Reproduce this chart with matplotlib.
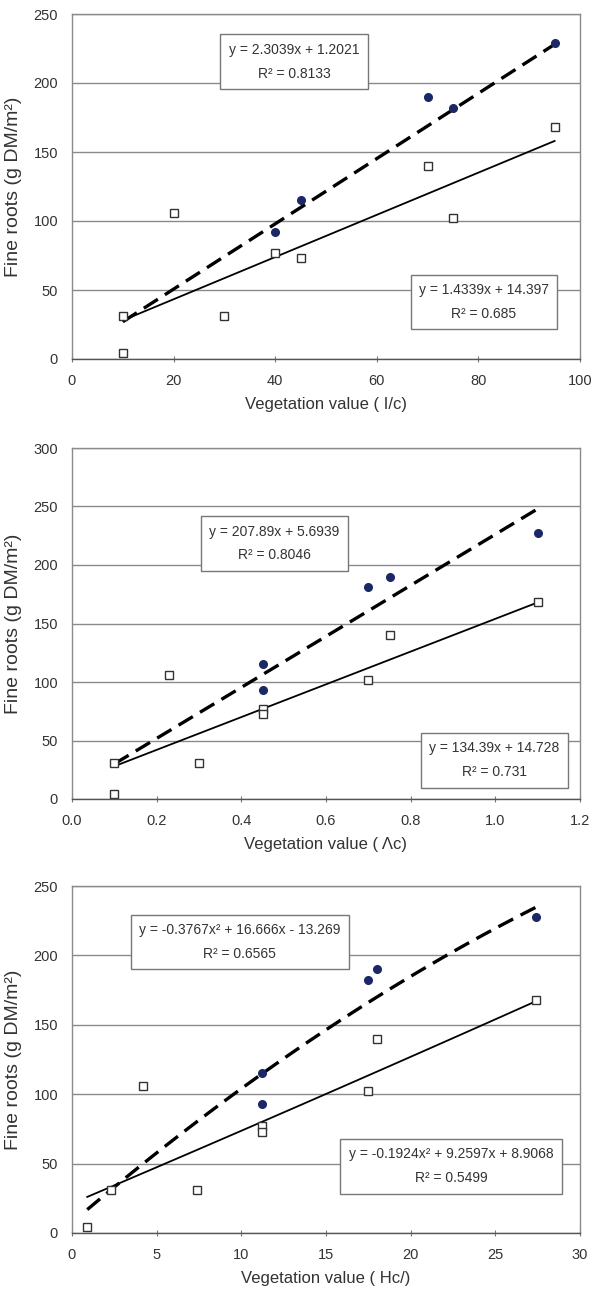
import numpy as np
import matplotlib
matplotlib.use("Agg")
import matplotlib.pyplot as plt

plt.rcParams["font.family"] = ["Liberation Sans", "DejaVu Sans"]

# panel 1 : I/c
sq_x1 = [10, 10, 20, 30, 40, 45, 70, 75, 95]
sq_y1 = [4, 31, 106, 31, 77, 73, 140, 102, 168]
dot_x1 = [40, 45, 70, 75, 95]
dot_y1 = [92, 115, 190, 182, 229]
dash_x1 = [10, 95]
dash_y1 = [27, 228]
solid_x1 = [10, 95]
solid_y1 = [28, 158]
eq1 = ["y = 2.3039x + 1.2021\nR² = 0.8133", "y = 1.4339x + 14.397\nR² = 0.685"]

# panel 2 : Λc
sq_x2 = [0.1, 0.1, 0.23, 0.3, 0.45, 0.45, 0.7, 0.75, 1.1]
sq_y2 = [4, 31, 106, 31, 77, 73, 102, 140, 168]
dot_x2 = [0.45, 0.45, 0.7, 0.75, 1.1]
dot_y2 = [115, 93, 181, 190, 227]
dash_x2 = [0.1, 1.1]
dash_y2 = [30, 248]
solid_x2 = [0.1, 1.1]
solid_y2 = [28, 168]
eq2 = ["y = 207.89x + 5.6939\nR² = 0.8046", "y = 134.39x + 14.728\nR² = 0.731"]

# panel 3 : Hc/
sq_x3 = [0.9, 2.3, 4.2, 7.4, 11.2, 11.2, 17.5, 18, 27.4]
sq_y3 = [4, 31, 106, 31, 77, 73, 102, 140, 168]
dot_x3 = [11.2, 11.2, 17.5, 18, 27.4]
dot_y3 = [115, 93, 182, 190, 228]
dash_x3 = [0.9, 4, 11.2, 18, 27.4]
dash_y3 = [16, 49, 115, 169, 235]
solid_x3 = [0.9, 11.2, 27.4]
solid_y3 = [26, 80, 167]
eq3 = ["y = -0.3767x² + 16.666x - 13.269\nR² = 0.6565",
       "y = -0.1924x² + 9.2597x + 8.9068\nR² = 0.5499"]

fig = plt.figure(figsize=(5.94, 12.95), dpi=100)


def panel(rect, sx, sy, dx, dy, lx_d, ly_d, lx_s, ly_s, eqs, boxpos,
          xmax, xstep, ymax, xlabel, xfmt, curve=False):
    ax = fig.add_axes(rect)
    ax.set_xlim(0, xmax)
    ax.set_ylim(0, ymax)
    ax.set_xticks(np.arange(0, xmax + xstep / 2, xstep))
    ax.set_yticks(np.arange(0, ymax + 1, 50))
    ax.xaxis.set_major_formatter(plt.FormatStrFormatter(xfmt))
    ax.grid(axis="y", color="#8a8a8a", lw=1.0)
    ax.set_axisbelow(True)
    for s in ax.spines.values():
        s.set_color("#8a8a8a")
        s.set_linewidth(1.0)
    ax.spines["bottom"].set_color("#555555")
    ax.tick_params(axis="x", direction="inout", length=4, color="#777777",
                   labelsize=10.5, labelcolor="#333333", pad=9)
    ax.tick_params(axis="y", length=0, labelsize=10.5, labelcolor="#333333", pad=10)

    if curve:
        cd = np.polyfit(lx_d, ly_d, 2)
        cs = np.polyfit(lx_s, ly_s, 2)
        xd = np.linspace(lx_d[0], lx_d[-1], 100)
        xs = np.linspace(lx_s[0], lx_s[-1], 100)
        ax.plot(xd, np.polyval(cd, xd), color="black", lw=2.4, ls=(0, (5, 2.5)))
        ax.plot(xs, np.polyval(cs, xs), color="black", lw=1.3)
    else:
        ax.plot(lx_d, ly_d, color="black", lw=2.4, ls=(0, (5, 2.5)))
        ax.plot(lx_s, ly_s, color="black", lw=1.3)

    ax.plot(sx, sy, ls="none", marker="s", ms=5.5, mfc="white",
            mec="#333333", mew=1.0)
    ax.plot(dx, dy, ls="none", marker="o", ms=5.5, mfc="#1a2966",
            mec="#1a2966")

    for txt, (bx, by) in zip(eqs, boxpos):
        ax.text(bx, by, txt, transform=ax.transAxes, ha="center", va="center",
                fontsize=10, color="#333333", linespacing=1.9,
                bbox=dict(boxstyle="square,pad=0.6", fc="white",
                          ec="#777777", lw=1.0))

    ax.set_xlabel(xlabel, fontsize=12, color="#333333", labelpad=6)
    ax.set_ylabel("Fine roots (g DM/m²)", fontsize=14, color="#333333",
                  labelpad=8)
    return ax


left = 72 / 594
width = 508 / 594

panel([left, 1 - 359 / 1295, width, 345 / 1295],
      sq_x1, sq_y1, dot_x1, dot_y1, dash_x1, dash_y1, solid_x1, solid_y1,
      eq1, [(0.437, 0.862), (0.811, 0.165)],
      100, 20, 250, "Vegetation value ( I/c)", "%d")

panel([left, 1 - 799 / 1295, width, 351 / 1295],
      sq_x2, sq_y2, dot_x2, dot_y2, dash_x2, dash_y2, solid_x2, solid_y2,
      eq2, [(0.398, 0.728), (0.831, 0.110)],
      1.2, 0.2, 300, "Vegetation value ( Λc)", "%.1f")

panel([left, 1 - 1233 / 1295, width, 347 / 1295],
      sq_x3, sq_y3, dot_x3, dot_y3, dash_x3, dash_y3, solid_x3, solid_y3,
      eq3, [(0.330, 0.838), (0.746, 0.192)],
      30, 5, 250, "Vegetation value ( Hc/)", "%d", curve=True)

fig.savefig("out.png", dpi=100)
